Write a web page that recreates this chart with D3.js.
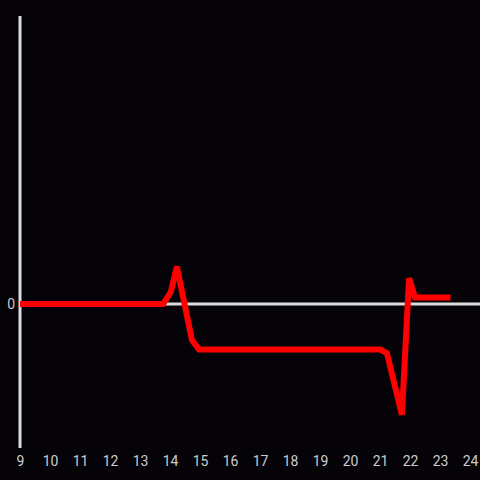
<!DOCTYPE html>
<html lang="en">
<head>
    <meta charset="UTF-8">
    <title>Chart</title>
    <script src="https://cdn.jsdelivr.net/npm/d3@7/dist/d3.min.js"></script>
    <style>
        html, body { margin: 0; padding: 0; background: #050308; }
        svg { display: block; }
    </style>
</head>
<body>
<script>
    // data
    var hours  = [9, 13.77, 14.03, 14.23, 14.73, 14.97, 21.0, 21.23, 21.73, 21.97, 22.17, 23.35];
    var values = [0, 0, 0.085, 0.26, -0.25, -0.316, -0.316, -0.34, -0.77, 0.18, 0.045, 0.045];
    var xTicks = d3.range(9, 25);
    var yTicks = [0];

    var width = 480, height = 480;
    var svg = d3.select("body").append("svg")
        .attr("width", width)
        .attr("height", height);

    svg.append("rect")
        .attr("width", width)
        .attr("height", height)
        .attr("fill", "#050308");

    var x = d3.scaleLinear().domain([9, 24]).range([20, 470]);
    var y = d3.scaleLinear().domain([-1, 2]).range([448, 16]);

    // zero line
    svg.append("line")
        .attr("x1", x(9)).attr("x2", width)
        .attr("y1", y(0)).attr("y2", y(0))
        .attr("stroke", "#dddddd")
        .attr("stroke-width", 3);

    // y axis line
    svg.append("line")
        .attr("x1", x(9)).attr("x2", x(9))
        .attr("y1", 16).attr("y2", 448)
        .attr("stroke", "#dddddd")
        .attr("stroke-width", 3);

    // x tick labels
    var gx = svg.append("g")
        .attr("transform", "translate(0,448)")
        .call(d3.axisBottom(x).tickValues(xTicks).tickSize(0).tickPadding(8).tickFormat(d3.format("d")));
    gx.select(".domain").remove();
    gx.selectAll("text")
        .attr("fill", "#cccccc")
        .style("font-family", "Roboto, sans-serif")
        .style("font-size", "14px");

    // y tick label
    var gy = svg.append("g")
        .attr("transform", "translate(" + x(9) + ",0)")
        .call(d3.axisLeft(y).tickValues(yTicks).tickSize(0).tickPadding(5).tickFormat(d3.format("d")));
    gy.select(".domain").remove();
    gy.selectAll("text")
        .attr("fill", "#cccccc")
        .style("font-family", "Roboto, sans-serif")
        .style("font-size", "14px");

    // the series
    var line = d3.line()
        .x(function (d, i) { return x(hours[i]); })
        .y(function (d) { return y(d); });

    svg.append("path")
        .datum(values)
        .attr("d", line)
        .attr("fill", "none")
        .attr("stroke", "#ff0000")
        .attr("stroke-width", 6);
</script>
</body>
</html>
